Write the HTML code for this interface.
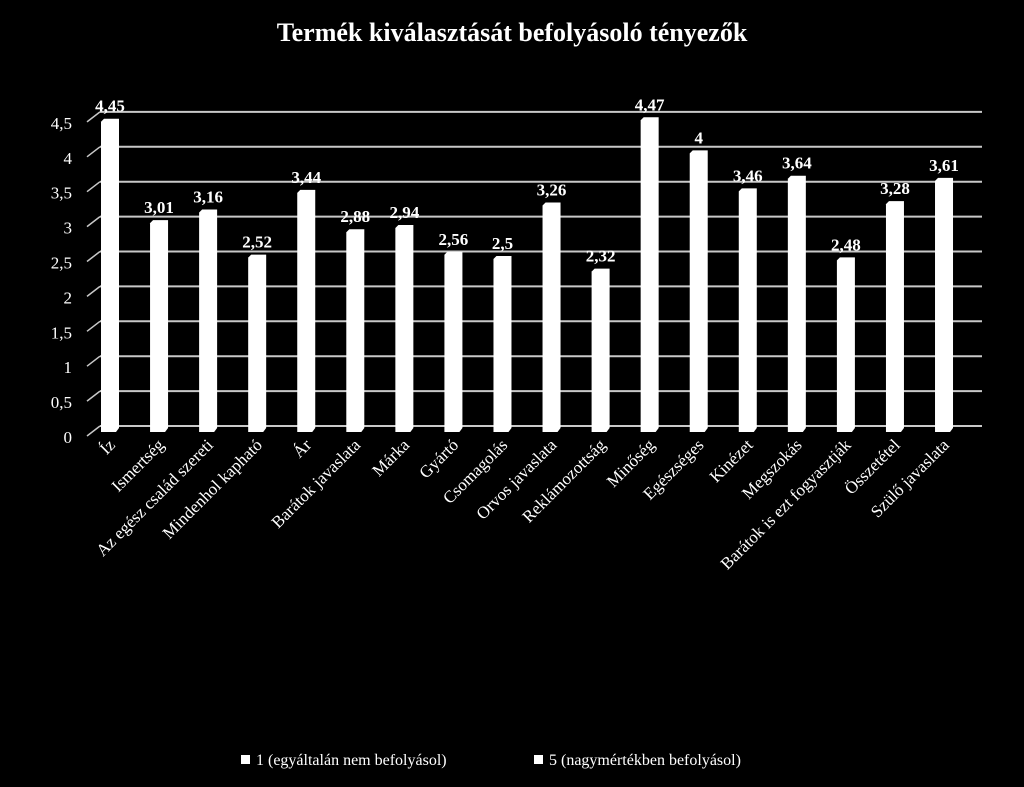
<!DOCTYPE html>
<html><head><meta charset="utf-8"><style>
body{margin:0;background:#000;}
svg{display:block;font-family:"Liberation Serif",serif;}
</style></head><body>
<svg id="c" width="1024" height="787">
<text x="512" y="41" text-anchor="middle" fill="#fff" font-size="26" font-weight="bold">Termék kiválasztását befolyásoló tényezők</text>
<g id="grid"></g><g id="bars"></g><g id="labels"></g>
<g>
<rect x="241" y="755" width="9" height="9" fill="#fff"/>
<text x="256" y="765" fill="#fff" font-size="16">1 (egyáltalán nem befolyásol)</text>
<rect x="534" y="755" width="9" height="9" fill="#fff"/>
<text x="549" y="765" fill="#fff" font-size="16">5 (nagymértékben befolyásol)</text>
</g>
</svg>
<script>
const categories=["Íz","Ismertség","Az egész család szereti","Mindenhol kapható","Ár","Barátok javaslata","Márka","Gyártó","Csomagolás","Orvos javaslata","Reklámozottság","Minőség","Egészséges","Kinézet","Megszokás","Barátok is ezt fogyasztják","Összetétel","Szülő javaslata"];
const values=[4.45,3.01,3.16,2.52,3.44,2.88,2.94,2.56,2.5,3.26,2.32,4.47,4,3.46,3.64,2.48,3.28,3.61];
const valueLabels=["4,45","3,01","3,16","2,52","3,44","2,88","2,94","2,56","2,5","3,26","2,32","4,47","4","3,46","3,64","2,48","3,28","3,61"];
const ticks=[0,0.5,1,1.5,2,2.5,3,3.5,4,4.5];
const tickLabels=["0","0,5","1","1,5","2","2,5","3","3,5","4","4,5"];
const NS="http://www.w3.org/2000/svg";
const yBack=v=>426-v*69.8, yFront=v=>432-v*70.4;
const xc=i=>110+i*49.06;
function mk(t,a,p){const e=document.createElementNS(NS,t);for(const k in a)e.setAttribute(k,a[k]);p.appendChild(e);return e;}
const g=document.getElementById('grid'),b=document.getElementById('bars'),l=document.getElementById('labels');
ticks.forEach((t,i)=>{
 const y=yBack(t);
 const ln=mk('line',{x1:100,x2:982,y1:y,y2:y,stroke:'#c8c8c8','stroke-width':2},g);
 
 
 mk('line',{x1:87,x2:100,y1:y+10,y2:y,stroke:'#c8c8c8','stroke-width':1.5},g);
 const tx=mk('text',{x:72,y:y+17,'text-anchor':'end',fill:'#fff','font-size':17},g);
 tx.textContent=tickLabels[i];
 
 
});
values.forEach((v,i)=>{
 const x=xc(i),top=yFront(v);
 const r=mk('path',{d:`M${x-9},432 L${x-9},${top+3} L${x-6},${top} L${x+9},${top} L${x+9},428 L${x+6},432 Z`,fill:'#fff'},b);
 
 
 const vt=mk('text',{x:x,y:top-7,'text-anchor':'middle',fill:'#fff','font-size':17,'font-weight':'bold'},l);
 vt.textContent=valueLabels[i];
 
 
 const ct=mk('text',{x:0,y:0,'text-anchor':'end',fill:'#fff','font-size':17,transform:`translate(${x+6},${446}) rotate(-45)`},l);
 ct.textContent=categories[i];
 
 
});
</script>
</body></html>
